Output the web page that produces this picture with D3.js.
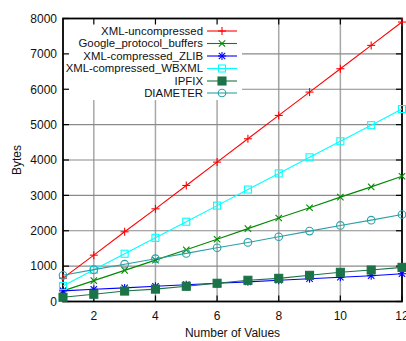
<!DOCTYPE html>
<html><head><meta charset="utf-8">
<script src="https://cdn.jsdelivr.net/npm/d3@7"></script>
<style>body{margin:0;background:#fff;}svg{display:block;font-family:"Liberation Sans",Arial,sans-serif;}</style>
</head><body><svg id="c" width="406" height="341"></svg>
<script>
const xValues = [1,2,3,4,5,6,7,8,9,10,11,12];
const xTicks = [2,4,6,8,10,12];
const yTicks = [0,1000,2000,3000,4000,5000,6000,7000,8000];
const seriesNames = ["XML-uncompressed","Google_protocol_buffers","XML-compressed_ZLIB","XML-compressed_WBXML","IPFIX","DIAMETER"];
const xmlUncompressed = [660,1310,1970,2620,3280,3940,4600,5260,5920,6580,7240,7900];
const googleProtobuf = [300,590,880,1170,1460,1760,2060,2360,2650,2950,3240,3540];
const xmlZlib = [300,345,385,430,475,515,555,600,645,685,730,785];
const xmlWbxml = [440,895,1350,1800,2255,2710,3165,3620,4075,4530,4985,5440];
const ipfix = [120,205,295,350,430,515,600,655,740,825,890,965];
const diameter = [740,900,1055,1210,1360,1520,1670,1830,1990,2150,2300,2460];
const seriesValues = [xmlUncompressed, googleProtobuf, xmlZlib, xmlWbxml, ipfix, diameter];
const colors = ["#ff0000","#008a00","#0000ff","#00ffff","#1b7348","#2aa0a6"];
const markers = ["plus","cross","star","square","fsquare","circle"];

const svg = d3.select("#c");
const L=63, R=402, T=18.5, B=301.5;
const x = d3.scaleLinear().domain([1,12]).range([L,R]);
const y = d3.scaleLinear().domain([0,8000]).range([B,T]);

// grid
const g = svg.append("g");
g.selectAll(".vg").data(xTicks.filter(d=>d<12)).join("line")
 .attr("x1",d=>x(d)).attr("x2",d=>x(d)).attr("y1",T).attr("y2",B)
 .attr("stroke","#a8a8a8").attr("stroke-width",1.5);
g.selectAll(".hg").data(yTicks.filter(d=>d>0&&d<8000)).join("line")
 .attr("x1",L).attr("x2",R).attr("y1",d=>y(d)).attr("y2",d=>y(d))
 .attr("stroke","#8a8a8a").attr("stroke-width",1.2);

// legend background
const legX1 = 242, legY1 = 100;
svg.append("rect").attr("x",L).attr("y",T).attr("width",legX1-L).attr("height",legY1-T).attr("fill","#fff");

// ticks (inward, mirrored)
const tk = svg.append("g").attr("stroke","#000").attr("stroke-width",1.2);
xTicks.forEach(d=>{
  tk.append("line").attr("x1",x(d)).attr("x2",x(d)).attr("y1",B).attr("y2",B-6);
  tk.append("line").attr("x1",x(d)).attr("x2",x(d)).attr("y1",T).attr("y2",T+6);
});
yTicks.forEach(d=>{
  tk.append("line").attr("x1",L).attr("x2",L+6).attr("y1",y(d)).attr("y2",y(d));
  tk.append("line").attr("x1",R).attr("x2",R-6).attr("y1",y(d)).attr("y2",y(d));
});

// frame
svg.append("rect").attr("x",L).attr("y",T).attr("width",R-L).attr("height",B-T)
 .attr("fill","none").attr("stroke","#000").attr("stroke-width",1.8);

// tick labels
svg.selectAll(".yl").data(yTicks).join("text")
 .attr("x",57).attr("y",d=>y(d)).attr("dy","0.36em").attr("text-anchor","end")
 .attr("font-size",12).attr("fill","#111").text(d=>d);
svg.selectAll(".xl").data(xTicks).join("text")
 .attr("x",d=>x(d)).attr("y",320).attr("text-anchor","middle")
 .attr("font-size",12).attr("fill","#111").text(d=>d);
svg.append("text").attr("x",(L+R)/2).attr("y",337).attr("text-anchor","middle")
 .attr("font-size",12).attr("fill","#111").text("Number of Values");
svg.append("text").attr("transform",`translate(21,${(T+B)/2}) rotate(-90)`).attr("text-anchor","middle")
 .attr("font-size",12).attr("fill","#111").text("Bytes");

function drawMarker(sel, type, cx, cy, color){
  const s=4;
  if(type==="plus"||type==="star"){
    sel.append("line").attr("x1",cx-s).attr("x2",cx+s).attr("y1",cy).attr("y2",cy).attr("stroke",color);
    sel.append("line").attr("x1",cx).attr("x2",cx).attr("y1",cy-s).attr("y2",cy+s).attr("stroke",color);
  }
  if(type==="cross"||type==="star"){
    const k=3.2;
    sel.append("line").attr("x1",cx-k).attr("x2",cx+k).attr("y1",cy-k).attr("y2",cy+k).attr("stroke",color);
    sel.append("line").attr("x1",cx-k).attr("x2",cx+k).attr("y1",cy+k).attr("y2",cy-k).attr("stroke",color);
  }
  if(type==="square"){
    sel.append("rect").attr("x",cx-3.5).attr("y",cy-3.5).attr("width",7).attr("height",7).attr("fill","none").attr("stroke",color);
  }
  if(type==="fsquare"){
    sel.append("rect").attr("x",cx-4).attr("y",cy-4).attr("width",8).attr("height",8).attr("fill",color).attr("stroke",color);
  }
  if(type==="circle"){
    sel.append("circle").attr("cx",cx).attr("cy",cy).attr("r",3.8).attr("fill","none").attr("stroke",color);
  }
}

const line = d3.line().x((d,i)=>x(xValues[i])).y(d=>y(d));
seriesValues.forEach((vals,si)=>{
  const gs = svg.append("g").attr("stroke-width",1.1);
  gs.append("path").attr("d",line(vals)).attr("fill","none").attr("stroke",colors[si]).attr("stroke-width",1.1);
  vals.forEach((v,i)=>drawMarker(gs, markers[si], x(xValues[i]), y(v), colors[si]));
});

// legend
const legRowY = [31,43.5,56,68.5,81,93];
seriesNames.forEach((n,si)=>{
  const ly = legRowY[si];
  svg.append("text").attr("x",203).attr("y",ly).attr("dy","0.35em").attr("text-anchor","end")
   .attr("font-size",11.4).attr("fill","#111").text(n);
  const gl = svg.append("g").attr("stroke-width",1.1);
  gl.append("line").attr("x1",207).attr("x2",237).attr("y1",ly).attr("y2",ly).attr("stroke",colors[si]);
  drawMarker(gl, markers[si], 222, ly, colors[si]);
});
</script></body></html>
